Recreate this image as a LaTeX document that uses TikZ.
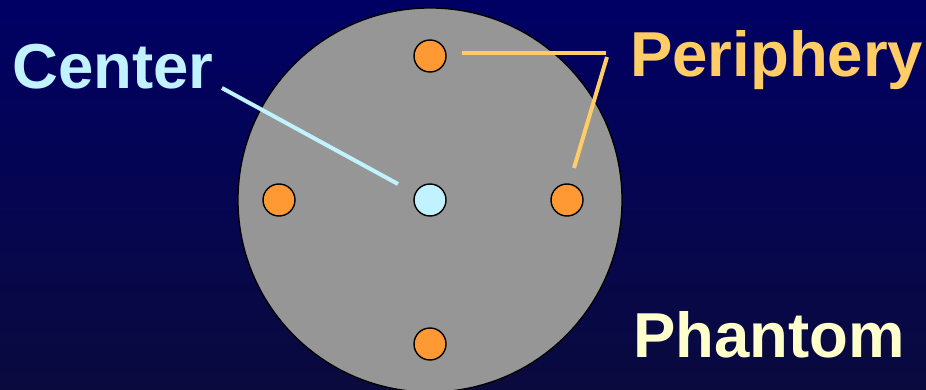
\documentclass[tikz,border=0pt]{standalone}
\usepackage{fontspec}
\setmainfont{Liberation Sans}
\definecolor{bgtop}{RGB}{0,0,100}
\definecolor{bgbot}{RGB}{10,10,62}
\definecolor{phgray}{RGB}{150,150,150}
\definecolor{dotorange}{RGB}{255,153,51}
\definecolor{dotblue}{RGB}{192,243,255}
\definecolor{perycol}{RGB}{255,204,102}
\definecolor{phancol}{RGB}{255,255,204}
\tikzset{
  dot/.style={circle, draw=black, line width=1.4pt, minimum size=32pt, inner sep=0pt},
  periph/.style={dot, fill=dotorange},
  centdot/.style={dot, fill=dotblue},
  bigtext/.style={font=\fontsize{63.5}{64}\selectfont\bfseries, inner sep=0pt, anchor=base west},
  lead/.style={line width=4pt},
}
\begin{document}
\begin{tikzpicture}[x=1pt,y=-1pt]
\useasboundingbox (0,0) rectangle (926,390);
\clip (0,0) rectangle (926,390);
\shade[top color=bgtop, bottom color=bgbot] (0,0) rectangle (926,390);
\node[circle, draw=black, line width=1.3pt, fill=phgray, minimum size=384pt, inner sep=0pt] (phantom) at (430,200) {};
\node[periph] (top) at (430,56) {};
\node[periph] (left) at (279,200) {};
\node[centdot] (center) at (430,200) {};
\node[periph] (right) at (567,200) {};
\node[periph] (bottom) at (430,344) {};
\node[bigtext, text=dotblue] (centerlbl) at (12,89) {Center};
\node[bigtext, text=perycol] (perilbl) at (630,77) {Periphery};
\node[bigtext, text=phancol] (phanlbl) at (633,357) {Phantom};
\coordinate (c1) at (222,88);
\coordinate (c2) at (398,184);
\coordinate (p1) at (462,53);
\coordinate (p2) at (606,53);
\coordinate (p3) at (607,57);
\coordinate (p4) at (574,168);
\draw[lead, draw=dotblue] (c1) -- (c2);
\draw[lead, draw=perycol] (p1) -- (p2);
\draw[lead, draw=perycol] (p3) -- (p4);
\end{tikzpicture}
\end{document}
